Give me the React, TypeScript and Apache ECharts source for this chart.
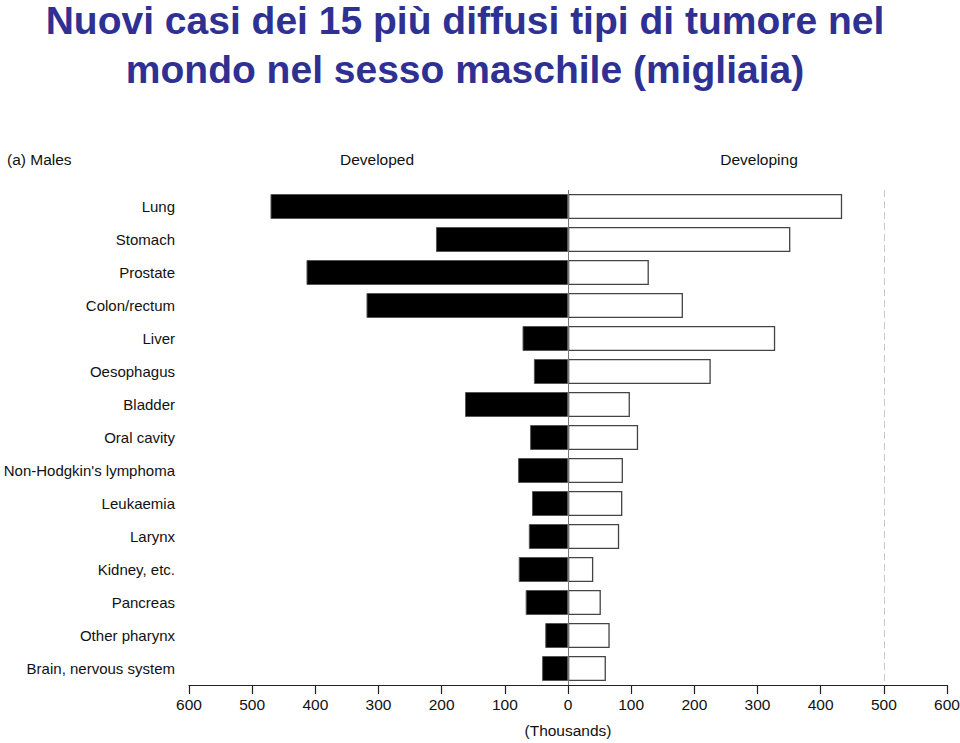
import React, { useEffect, useRef } from "react";
import * as echarts from "echarts";

const categories = [
  "Lung",
  "Stomach",
  "Prostate",
  "Colon/rectum",
  "Liver",
  "Oesophagus",
  "Bladder",
  "Oral cavity",
  "Non-Hodgkin's lymphoma",
  "Leukaemia",
  "Larynx",
  "Kidney, etc.",
  "Pancreas",
  "Other pharynx",
  "Brain, nervous system",
];
const developed = [471, 209, 414, 319, 72, 54, 163, 60, 79, 57, 62, 78, 67, 36, 41];
const developing = [434, 352, 128, 182, 328, 226, 98, 111, 87, 86, 81, 40, 52, 66, 60];
const axisTicks = [-600, 600, 100];
const titleLines = [
  "Nuovi casi dei 15 più diffusi tipi di tumore nel",
  "mondo nel sesso maschile (migliaia)",
];

const FONT = "'Liberation Sans', Arial, Helvetica, sans-serif";

export default function App() {
  const ref = useRef<HTMLDivElement>(null);
  useEffect(() => {
    if (!ref.current) return;
    const chart = echarts.init(ref.current, undefined, { renderer: "svg" });
    chart.setOption({
      animation: false,
      backgroundColor: "#ffffff",
      grid: {
        left: 189,
        right: 13,
        top: 190,
        bottom: 58,
        containLabel: false,
        outerBoundsMode: "none",
      },
      xAxis: {
        type: "value",
        min: axisTicks[0],
        max: axisTicks[1],
        interval: axisTicks[2],
        position: "bottom",
        axisLine: { show: true, onZero: false, lineStyle: { color: "#222", width: 1.2 } },
        axisTick: { show: true, length: 9, inside: false, lineStyle: { color: "#222", width: 1.2 } },
        splitLine: { show: false },
        axisLabel: {
          color: "#111",
          fontFamily: FONT,
          fontSize: 15.5,
          margin: 11,
          formatter: (v: number) => String(Math.abs(v)),
        },
        name: "(Thousands)",
        nameLocation: "middle",
        nameGap: 37,
        nameTextStyle: { color: "#111", fontFamily: FONT, fontSize: 15.5 },
      },
      yAxis: {
        type: "category",
        data: categories,
        inverse: true,
        axisLine: { show: false },
        axisTick: { show: false },
        splitLine: { show: false },
        axisLabel: {
          color: "#111",
          fontFamily: FONT,
          fontSize: 15,
          margin: 14,
        },
      },
      series: [
        {
          name: "Developed",
          type: "bar",
          data: developed.map((v) => -v),
          barWidth: 25,
          barGap: "-100%",
          itemStyle: { color: "#000000", borderColor: "#555", borderWidth: 1 },
          markLine: {
            silent: true,
            symbol: "none",
            label: { show: false },
            data: [
              { xAxis: 0, lineStyle: { color: "#777", width: 1, type: "solid" } },
              { xAxis: 500, lineStyle: { color: "#c8c8c8", width: 1, type: [7, 4] } },
            ],
          },
        },
        {
          name: "Developing",
          type: "bar",
          data: developing,
          barWidth: 25,
          barGap: "-100%",
          itemStyle: { color: "#ffffff", borderColor: "#444", borderWidth: 1.3 },
        },
      ],
      graphic: [
        {
          type: "text",
          x: 465,
          y: 20,
          style: {
            text: titleLines[0],
            fill: "#2e3192",
            font: `bold 39px ${FONT}`,
            align: "center",
            verticalAlign: "middle",
          },
        },
        {
          type: "text",
          x: 465,
          y: 69,
          style: {
            text: titleLines[1],
            fill: "#2e3192",
            font: `bold 39px ${FONT}`,
            align: "center",
            verticalAlign: "middle",
          },
        },
        {
          type: "text",
          x: 7,
          y: 151,
          style: { text: "(a) Males", fill: "#111", font: `15.5px ${FONT}` },
        },
        {
          type: "text",
          x: 377,
          y: 151,
          style: { text: "Developed", fill: "#111", font: `15.5px ${FONT}`, align: "center" },
        },
        {
          type: "text",
          x: 759,
          y: 151,
          style: { text: "Developing", fill: "#111", font: `15.5px ${FONT}`, align: "center" },
        },
      ],
    });
    return () => chart.dispose();
  }, []);
  return <div ref={ref} style={{ width: 960, height: 743, position: "absolute", left: 0, top: 0 }} />;
}
